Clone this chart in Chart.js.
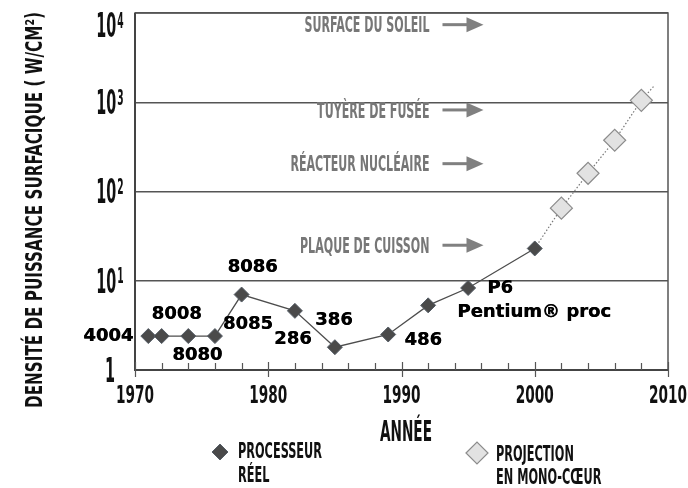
<!DOCTYPE html>
<html>
<head>
<meta charset="utf-8">
<script src="https://cdn.jsdelivr.net/npm/chart.js@4.4.0/dist/chart.umd.min.js"></script>
<style>
  html, body { margin: 0; padding: 0; background: #fff; }
</style>
</head>
<body>
<canvas id="densiteChart" width="688" height="488"></canvas>
<script>
// processeurs réels
const anneesReel = [1971, 1972, 1974, 1976, 1978, 1982, 1985, 1989, 1992, 1995, 2000];
const densiteReel = [2.4, 2.4, 2.4, 2.4, 7, 4.6, 1.8, 2.5, 5.3, 8.3, 23];
const nomsReel = ['4004', '8008', '8080', '8085', '8086', '286', '386', '486', '', 'P6\nPentium® proc', ''];

// projection mono-coeur (premier point = 2000, dernier = fin de la tendance)
const anneesProj = [2000, 2002, 2004, 2006, 2008, 2009];
const densiteProj = [23, 65, 160, 375, 1050, 1550];

// repères
const reperes = ['SURFACE DU SOLEIL', 'TUYÈRE DE FUSÉE', 'RÉACTEUR NUCLÉAIRE', 'PLAQUE DE CUISSON'];
const reperesDensite = [7400, 820, 205, 25];

// axes
const xTicks = [1970, 1980, 1990, 2000, 2010];
const yTicks = [1, 10, 100, 1000, 10000];
const yTickLabels = ['1', '10^1', '10^2', '10^3', '10^4'];
const titreX = 'ANNÉE';
const titreY = 'DENSITÉ DE PUISSANCE SURFACIQUE ( W/CM²)';
const legendeReel = ['PROCESSEUR', 'RÉEL'];
const legendeProj = ['PROJECTION', 'EN MONO-CŒUR'];

// décalage des étiquettes par rapport au point (une paire par ligne)
const decalages = [[[-40, 0]], [[15, -22]], [[9, 19]], [[33, -12]], [[11, -27]], [[-2, 28]], [[-1, -27]], [[35, 6]], null, [[32, 0], [66, 24]], null];

const FONT_ETROIT = '"Liberation Sans Narrow", "DejaVu Sans Condensed", sans-serif';

// facteur de compression horizontale pour qu'un texte fasse "largeur" px
function echelle(ctx, txt, taille, largeur) {
    ctx.save();
    ctx.font = 'bold ' + taille + 'px ' + FONT_ETROIT;
    const w = ctx.measureText(txt).width;
    ctx.restore();
    return largeur / w;
}

function texteEtroit(ctx, txt, x, y, taille, sx, align, couleur) {
    ctx.save();
    ctx.font = 'bold ' + taille + 'px ' + FONT_ETROIT;
    ctx.fillStyle = couleur || '#111';
    ctx.textBaseline = 'alphabetic';
    ctx.textAlign = 'left';
    const w = ctx.measureText(txt).width * sx;
    const x0 = align === 'right' ? x - w : (align === 'center' ? x - w / 2 : x);
    ctx.translate(x0, y + 0.36 * taille);
    ctx.scale(sx, 1);
    ctx.fillText(txt, 0, 0);
    ctx.restore();
    return w;
}

function losange(ctx, x, y, r, fond, bord, lw) {
    ctx.save();
    ctx.beginPath();
    ctx.moveTo(x - r, y);
    ctx.lineTo(x, y - r);
    ctx.lineTo(x + r, y);
    ctx.lineTo(x, y + r);
    ctx.closePath();
    ctx.fillStyle = fond;
    ctx.fill();
    ctx.strokeStyle = bord;
    ctx.lineWidth = lw;
    ctx.stroke();
    ctx.restore();
}

const decor = {
    id: 'decor',
    beforeDatasetsDraw(chart) {
        const ctx = chart.ctx;
        const a = chart.chartArea;
        const xs = chart.scales.x, ys = chart.scales.y;

        // cadre
        ctx.save();
        ctx.strokeStyle = '#555';
        ctx.lineWidth = 1.5;
        ctx.strokeRect(a.left, a.top, a.right - a.left, a.bottom - a.top);
        ctx.lineWidth = 2;
        ctx.strokeStyle = '#444';
        ctx.beginPath();
        ctx.moveTo(a.left, a.top);
        ctx.lineTo(a.left, a.bottom);
        ctx.lineTo(a.right, a.bottom);
        ctx.stroke();

        // graduations de l'axe x
        ctx.lineWidth = 1.2;
        ctx.strokeStyle = '#555';
        ctx.beginPath();
        for (let an = xs.min; an <= xs.max; an += 2) {
            const px = Math.round(xs.getPixelForValue(an)) + 0.5;
            ctx.moveTo(px, a.bottom - 7);
            ctx.lineTo(px, a.bottom);
        }
        xTicks.forEach(an => {
            const px = Math.round(xs.getPixelForValue(an)) + 0.5;
            ctx.moveTo(px, a.bottom - 8);
            ctx.lineTo(px, a.bottom + 7);
        });
        ctx.stroke();
        ctx.restore();

        // repères et flèches
        const xFin = xs.getPixelForValue(1992.1);
        const sxRep = echelle(ctx, reperes[0], 21, 125);
        reperes.forEach((txt, i) => {
            const py = ys.getPixelForValue(reperesDensite[i]);
            texteEtroit(ctx, txt, xFin, py, 21, sxRep, 'right', '#777');
            ctx.save();
            ctx.fillStyle = '#808080';
            ctx.fillRect(xFin + 13, py - 1.5, 26, 3);
            ctx.beginPath();
            ctx.moveTo(xFin + 37, py - 7.5);
            ctx.lineTo(xFin + 54, py);
            ctx.lineTo(xFin + 37, py + 7.5);
            ctx.closePath();
            ctx.fill();
            ctx.restore();
        });
    },
    afterDatasetsDraw(chart) {
        const ctx = chart.ctx;
        const meta = chart.getDatasetMeta(0);
        ctx.save();
        ctx.font = 'bold 18px "DejaVu Sans", sans-serif';
        ctx.fillStyle = '#000';
        ctx.textAlign = 'center';
        ctx.textBaseline = 'middle';
        nomsReel.forEach((nom, i) => {
            if (!nom) return;
            const pt = meta.data[i];
            nom.split('\n').forEach((ligne, j) => {
                const d = decalages[i][j];
                ctx.fillText(ligne, pt.x + d[0], pt.y + d[1]);
                ctx.fillText(ligne, pt.x + d[0] + 0.4, pt.y + d[1]);
            });
        });
        ctx.restore();
    },
    afterDraw(chart) {
        const ctx = chart.ctx;
        const a = chart.chartArea;
        const xs = chart.scales.x, ys = chart.scales.y;

        // étiquettes x
        const sxX = echelle(ctx, '1970', 25, 38);
        xTicks.forEach(an => {
            texteEtroit(ctx, String(an), xs.getPixelForValue(an), a.bottom + 24, 25, sxX, 'center');
        });

        // étiquettes y (10 puissance n)
        const sxY = echelle(ctx, '10', 33, 20);
        yTicks.forEach((v, i) => {
            const parts = yTickLabels[i].split('^');
            const cy = Math.max(ys.getPixelForValue(v), a.top + 12);
            ctx.save();
            ctx.font = 'bold 33px ' + FONT_ETROIT;
            const wBase = ctx.measureText(parts[0]).width * sxY;
            ctx.font = 'bold 21px ' + FONT_ETROIT;
            const wExp = parts[1] ? ctx.measureText(parts[1]).width * sxY + 1 : 0;
            ctx.restore();
            const x0 = 110 - (wBase + wExp) / 2;
            texteEtroit(ctx, parts[0], x0, cy, 33, sxY, 'left');
            if (parts[1]) {
                texteEtroit(ctx, parts[1], x0 + wBase + 1, cy - 5, 21, sxY, 'left');
            }
        });

        // titres des axes
        texteEtroit(ctx, titreX, 406, a.bottom + 61, 28, echelle(ctx, titreX, 28, 52), 'center');
        ctx.save();
        ctx.translate(33.5, 210);
        ctx.rotate(-Math.PI / 2);
        texteEtroit(ctx, titreY, 0, 0, 23, echelle(ctx, titreY, 23, 396), 'center');
        ctx.restore();

        // légende
        const sxL = echelle(ctx, legendeReel[0], 21, 84);
        losange(ctx, 220, 452, 8, '#4a4a4a', '#555d66', 1);
        legendeReel.forEach((l, j) => texteEtroit(ctx, l, 238, 450 + j * 24, 21, sxL, 'left'));
        losange(ctx, 477, 453, 11, '#e2e2e2', '#8c8c8c', 1.2);
        legendeProj.forEach((l, j) => texteEtroit(ctx, l, 496, 453 + j * 23, 21, sxL, 'left'));
    }
};

const ctx = document.getElementById('densiteChart').getContext('2d');
new Chart(ctx, {
    type: 'line',
    data: {
        datasets: [
            {
                label: legendeReel.join(' '),
                data: anneesReel.map((an, i) => ({ x: an, y: densiteReel[i] })),
                borderColor: '#4d4d4d',
                borderWidth: 1.3,
                pointStyle: 'rectRot',
                pointRadius: 7.5,
                pointBackgroundColor: '#4a4a4a',
                pointBorderColor: '#555d66',
                pointBorderWidth: 1,
                tension: 0
            },
            {
                label: legendeProj.join(' '),
                data: anneesProj.map((an, i) => ({ x: an, y: densiteProj[i] })),
                borderColor: '#777',
                borderWidth: 1.2,
                borderDash: [1.5, 2],
                pointStyle: 'rectRot',
                pointRadius: c => (c.dataIndex === 0 || c.dataIndex === anneesProj.length - 1) ? 0 : 11,
                pointBackgroundColor: '#e2e2e2',
                pointBorderColor: '#8c8c8c',
                pointBorderWidth: 1.2,
                tension: 0
            }
        ]
    },
    options: {
        responsive: false,
        animation: false,
        layout: { padding: { left: 135, right: 20, top: 13, bottom: 118 } },
        plugins: {
            legend: { display: false },
            tooltip: { enabled: false }
        },
        scales: {
            x: {
                type: 'linear',
                min: 1970,
                max: 2010,
                ticks: { display: false },
                grid: { display: false, drawTicks: false },
                border: { display: false }
            },
            y: {
                type: 'logarithmic',
                min: 1,
                max: 10000,
                ticks: { display: false },
                grid: { color: '#555', lineWidth: 1.5, drawTicks: false },
                border: { display: false },
                afterBuildTicks: s => { s.ticks = yTicks.map(v => ({ value: v })); }
            }
        }
    },
    plugins: [decor]
});
</script>
</body>
</html>
